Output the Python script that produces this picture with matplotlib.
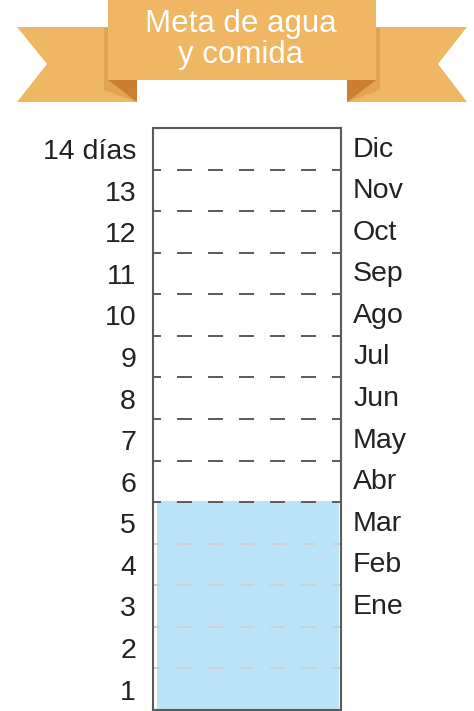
import matplotlib.pyplot as plt
from matplotlib.patches import Polygon, Rectangle

plt.rcParams['font.family'] = ['Liberation Sans', 'DejaVu Sans']

# datos
titulo = ['Meta de agua', 'y comida']
dias = ['1', '2', '3', '4', '5', '6', '7', '8', '9', '10', '11', '12', '13', '14 días']
meses = ['Ene', 'Feb', 'Mar', 'Abr', 'May', 'Jun', 'Jul', 'Ago', 'Sep', 'Oct', 'Nov', 'Dic']
mes_inicio = 3      # Ene sits in the 3rd section
nivel = 5           # days of water and food stored

W, H = 474, 711
fig = plt.figure(figsize=(W / 100, H / 100), dpi=100)

# banner drawn in pixel coordinates
bg = fig.add_axes([0, 0, 1, 1])
bg.set_xlim(0, W)
bg.set_ylim(H, 0)
bg.axis('off')

main = '#EFB664'
mid = '#E2A352'
dark = '#CB7F30'

# left tail
bg.add_patch(Polygon([(17, 27), (137, 27), (137, 102), (17, 102), (47, 64)], color=main, lw=0))
bg.add_patch(Polygon([(104, 28), (108, 28), (137, 102), (104, 90)], color=mid, lw=0))
bg.add_patch(Polygon([(108, 80), (137, 80), (137, 102)], color=dark, lw=0))
# right tail
bg.add_patch(Polygon([(467, 27), (347, 27), (347, 102), (467, 102), (438, 64)], color=main, lw=0))
bg.add_patch(Polygon([(380, 28), (376, 28), (347, 102), (380, 90)], color=mid, lw=0))
bg.add_patch(Polygon([(376, 80), (347, 80), (347, 102)], color=dark, lw=0))
# center
bg.add_patch(Rectangle((108, 0), 268, 80, color=main, lw=0))
bg.text(241, 32, titulo[0], color='white', fontsize=22.5, ha='center', va='baseline')
bg.text(241, 63, titulo[1], color='white', fontsize=22.5, ha='center', va='baseline')

# column
ax = fig.add_axes([153 / W, 1 / H, 188 / W, 582 / H])
n = len(dias)
ax.set_xlim(0, 1)
ax.set_ylim(0, n)
ax.set_xticks([])
ax.set_yticks([])
for s in ax.spines.values():
    s.set_color('#5a5a5a')
    s.set_linewidth(1.5)

ax.bar(0.505, nivel, width=0.97, bottom=0.03, color='#BAE3F8', zorder=1)

for k in range(1, n):
    col = '#D0D0D0' if k < nivel else '#5e5e5e'
    ax.plot([0, 1], [k, k], color=col, lw=1.44, ls=(3.5, (7.5, 8)), zorder=2)

tr = ax.get_yaxis_transform()
for i, lab in enumerate(dias):
    ax.text(-0.09, i + 0.42, lab, transform=tr, ha='right', va='center',
            fontsize=20.5, color='#222222', clip_on=False)
for i, m in enumerate(meses):
    ax.text(1.064, mes_inicio + i - 0.52, m, transform=tr, ha='left', va='center',
            fontsize=20.5, color='#222222', clip_on=False)

fig.savefig('out.png', dpi=100)
